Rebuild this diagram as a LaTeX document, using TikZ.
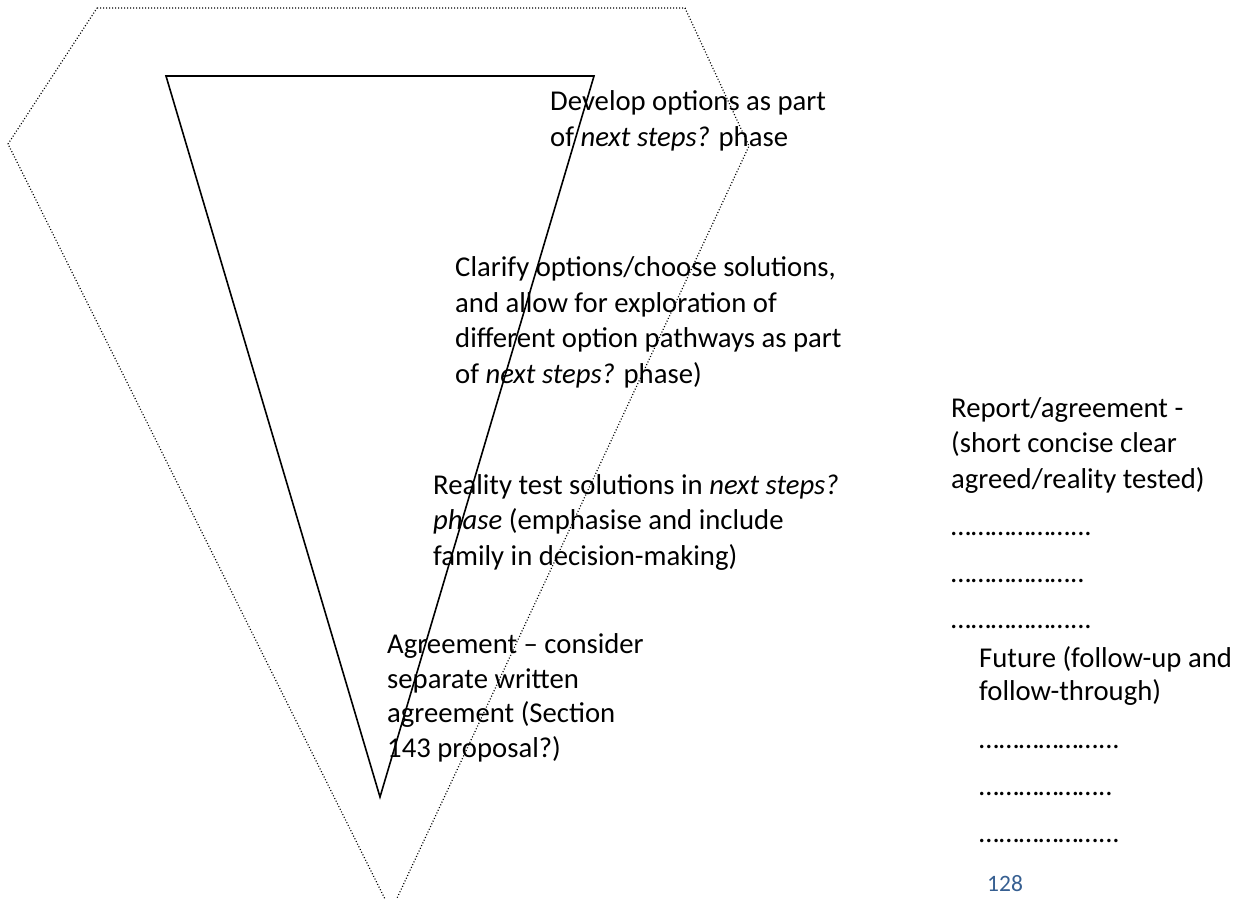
\documentclass[tikz,border=0pt]{standalone}
\usepackage{fontspec}
\setmainfont{Carlito}
\definecolor{pagenum}{RGB}{54,95,145}

\begin{document}
\begin{tikzpicture}[x=1pt, y=-1pt]
		% Text styles (anchored on the baseline of the last line)
		\tikzset{phase style/.style={anchor=base west,
								inner sep=0pt,
								align=left,
								font=\fontsize{28.7}{35.5}\selectfont},
				 note style/.style={phase style}}

		\useasboundingbox (0, 0) rectangle (1253, 898);

		% Draw outer and inner shapes
		\draw[line width=1.2pt, dash pattern=on 1pt off 2pt]
			(97, 8) -- (685, 8) -- (749, 146) -- (391, 911) -- (8, 144) -- cycle;
		\draw[line width=1.6pt, line join=miter]
			(166, 76) -- (594, 76) -- (380, 797) -- cycle;

		% Draw phase texts
		\node[phase style] at (550, 146)	(develop) {Develop options as part\\of \textit{next steps?} phase};
		\node[phase style] at (455, 383)	(clarify) {Clarify options/choose solutions,\\and allow for exploration of\\different option pathways as part\\of \textit{next steps?} phase)};
		\node[phase style] at (433, 565)	(reality) {Reality test solutions in \textit{next steps?}\\\textit{phase} (emphasise and include\\family in decision-making)};
		\node[phase style, font=\fontsize{28.7}{34.5}\selectfont]
							at (387, 757)	(agree) {Agreement – consider\\separate written\\agreement (Section\\143 proposal?)};

		% Draw notes
		\node[note style] at (951, 488)		(report) {Report/agreement -\\(short concise clear\\agreed/reality tested)};
		\node[note style] at (951, 535)		(rdots1) {{……}{……}{……}...};
		\node[note style] at (951, 582)		(rdots2) {{……}{……}{……}..};
		\node[note style] at (951, 628)		(rdots3) {{……}{……}{……}...};
		\node[note style, font=\fontsize{28.7}{33}\selectfont]
							at (979, 700)	(future) {Future (follow-up and\\follow-through)};
		\node[note style] at (979, 748)		(fdots1) {{……}{……}{……}...};
		\node[note style] at (979, 795)		(fdots2) {{……}{……}{……}..};
		\node[note style] at (979, 842)		(fdots3) {{……}{……}{……}...};
		\node[note style, font=\fontsize{23.5}{28}\selectfont, text=pagenum]
							at (987, 891)	(page) {128};

	\end{tikzpicture}
\end{document}
